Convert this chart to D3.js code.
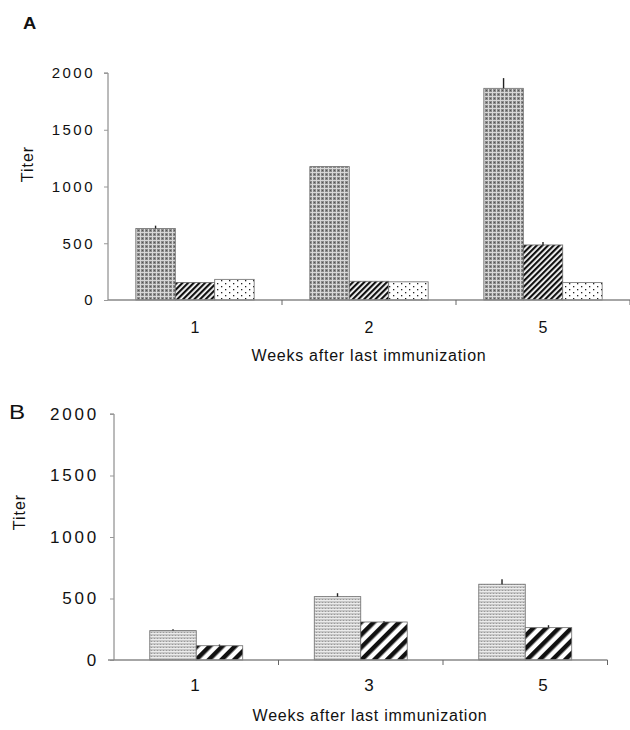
<!DOCTYPE html>
<html>
<head>
<meta charset="utf-8">
<script src="https://cdn.jsdelivr.net/npm/d3@7"></script>
<style>
  body { margin: 0; background: #fff; }
  svg text { font-family: "Liberation Sans", Arial, sans-serif; fill: #111; }
</style>
</head>
<body>
<div id="chart"></div>
<script>
// ---- data ----
const weeksA = ["1", "2", "5"];
const seriesA1 = [630, 1175, 1865];   // grey cross-hatch
const seriesA2 = [155, 165, 485];     // black diagonal
const seriesA3 = [182, 160, 153];     // dotted
const errA1 = [25, 0, 90];
const errA2 = [0, 0, 25];
const errA3 = [0, 0, 0];

const weeksB = ["1", "3", "5"];
const seriesB1 = [239, 515, 616];     // light stipple
const seriesB2 = [116, 309, 263];     // wide diagonal
const errB1 = [10, 28, 40];
const errB2 = [10, 6, 20];

const yTicks = [0, 500, 1000, 1500, 2000];

const width = 630, height = 730;
const svg = d3.select("#chart").append("svg")
    .attr("width", width)
    .attr("height", height);

// ---- fill patterns ----
const defs = svg.append("defs");

const pGrey = defs.append("pattern").attr("id", "pGrey")
    .attr("patternUnits", "userSpaceOnUse").attr("width", 4).attr("height", 4);
pGrey.append("rect").attr("width", 4).attr("height", 4).attr("fill", "#8c8c8c");
pGrey.append("rect").attr("width", 4).attr("height", 1).attr("fill", "#d8d8d8");
pGrey.append("rect").attr("width", 1).attr("height", 4).attr("fill", "#d8d8d8");
pGrey.append("rect").attr("x", 2).attr("y", 2).attr("width", 1).attr("height", 1).attr("fill", "#555");

const pHatch = defs.append("pattern").attr("id", "pHatch")
    .attr("patternUnits", "userSpaceOnUse").attr("width", 4).attr("height", 4)
    .attr("patternTransform", "rotate(45)");
pHatch.append("rect").attr("width", 4).attr("height", 4).attr("fill", "#fff");
pHatch.append("rect").attr("width", 2.2).attr("height", 4).attr("fill", "#111");

const pDots = defs.append("pattern").attr("id", "pDots")
    .attr("patternUnits", "userSpaceOnUse").attr("width", 8).attr("height", 6);
pDots.append("rect").attr("width", 8).attr("height", 6).attr("fill", "#fff");
pDots.append("rect").attr("x", 1).attr("y", 1).attr("width", 1.3).attr("height", 1.3).attr("fill", "#222");
pDots.append("rect").attr("x", 5).attr("y", 4).attr("width", 1.3).attr("height", 1.3).attr("fill", "#222");

const pLight = defs.append("pattern").attr("id", "pLight")
    .attr("patternUnits", "userSpaceOnUse").attr("width", 3).attr("height", 3);
pLight.append("rect").attr("width", 3).attr("height", 3).attr("fill", "#c6c6c6");
pLight.append("rect").attr("width", 3).attr("height", 1).attr("fill", "#ececec");
pLight.append("rect").attr("x", 1).attr("y", 2).attr("width", 1).attr("height", 1).attr("fill", "#9a9a9a");

const pWide = defs.append("pattern").attr("id", "pWide")
    .attr("patternUnits", "userSpaceOnUse").attr("width", 9).attr("height", 9)
    .attr("patternTransform", "rotate(45)");
pWide.append("rect").attr("width", 9).attr("height", 9).attr("fill", "#fff");
pWide.append("rect").attr("width", 4.5).attr("height", 9).attr("fill", "#111");

// ---- generic panel ----
function panel(cfg) {
    const g = svg.append("g");

    const x = d3.scaleBand().domain(cfg.cats).range([cfg.x0, cfg.x1]);
    const keys = cfg.series.map((s, i) => i);
    const bw = x.bandwidth();
    const x1 = d3.scaleBand().domain(keys)
        .range([bw * cfg.inset, bw * (1 - cfg.inset)]);
    const y = d3.scaleLinear().domain([0, 2000]).range([cfg.y0, cfg.yTop]);

    // bars
    cfg.series.forEach((vals, si) => {
        const rows = vals.map((v, i) => ({ cat: cfg.cats[i], v, e: cfg.errs[si][i] }));

        g.append("g").selectAll("rect")
            .data(rows)
            .enter().append("rect")
            .attr("x", d => x(d.cat) + x1(si))
            .attr("y", d => y(d.v))
            .attr("width", x1.bandwidth())
            .attr("height", d => y(0) - y(d.v))
            .attr("fill", `url(#${cfg.fills[si]})`)
            .attr("stroke", "#6a6a6a")
            .attr("stroke-width", 0.8);

        // upper error bars
        g.append("g").selectAll("line")
            .data(rows.filter(d => d.e > 0))
            .enter().append("line")
            .attr("x1", d => x(d.cat) + x1(si) + x1.bandwidth() / 2)
            .attr("x2", d => x(d.cat) + x1(si) + x1.bandwidth() / 2)
            .attr("y1", d => y(d.v))
            .attr("y2", d => y(d.v + d.e))
            .attr("stroke", "#222")
            .attr("stroke-width", 1.4);
    });

    // y axis
    const yAxis = d3.axisLeft(y).tickValues(yTicks).tickFormat(d3.format("d"))
        .tickSize(4).tickPadding(cfg.tickPad);
    const ya = g.append("g")
        .attr("transform", `translate(${cfg.x0},0)`)
        .call(yAxis);
    ya.select(".domain").attr("stroke", "#777").attr("stroke-width", 1)
        .attr("d", `M-4,${y(2000)}H0V${y(0)}`);
    ya.selectAll(".tick line").attr("stroke", "#999");
    ya.selectAll(".tick text")
        .style("font-size", cfg.tickFont + "px")
        .style("letter-spacing", cfg.tickSpacing + "px")
        .attr("fill", "#111");

    // x axis line with ticks at band boundaries
    g.append("line")
        .attr("x1", cfg.x0 - cfg.leftExt).attr("x2", cfg.x1)
        .attr("y1", y(0)).attr("y2", y(0))
        .attr("stroke", "#888").attr("stroke-width", 1.5);
    g.append("g").selectAll("line")
        .data(cfg.cats)
        .enter().append("line")
        .attr("x1", d => x(d) + bw).attr("x2", d => x(d) + bw)
        .attr("y1", y(0)).attr("y2", y(0) + 5)
        .attr("stroke", "#666").attr("stroke-width", 1);

    // category labels
    const lx = d3.scalePoint().domain(cfg.cats).range(cfg.labelRange);
    g.append("g").selectAll("text")
        .data(cfg.cats)
        .enter().append("text")
        .attr("x", d => lx(d))
        .attr("y", cfg.catY)
        .attr("text-anchor", "middle")
        .style("font-size", cfg.catFont + "px")
        .text(d => d);

    g.append("text")
        .attr("x", cfg.titleX).attr("y", cfg.titleY)
        .attr("text-anchor", "middle")
        .style("font-size", "16px")
        .style("letter-spacing", "0.75px")
        .text("Weeks after last immunization");

    g.append("text")
        .attr("transform", `translate(${cfg.titerX},${cfg.titerY}) rotate(-90)`)
        .attr("text-anchor", "middle")
        .style("font-size", "16px")
        .style("letter-spacing", "1px")
        .text("Titer");

    g.append("text")
        .attr("transform", `translate(${cfg.letterX},${cfg.letterY}) scale(${cfg.letterStretch},1)`)
        .style("font-size", cfg.letterSize + "px")
        .style("font-weight", cfg.letterWeight)
        .text(cfg.letter);
}

panel({
    cats: weeksA,
    series: [seriesA1, seriesA2, seriesA3],
    errs: [errA1, errA2, errA3],
    fills: ["pGrey", "pHatch", "pDots"],
    x0: 108, x1: 630, inset: 0.16,
    y0: 300, yTop: 73,
    leftExt: 0,
    tickFont: 15, tickSpacing: 2.5, tickPad: 9,
    catFont: 16,
    labelRange: [195, 543], catY: 333,
    titleX: 369, titleY: 361,
    titerX: 33, titerY: 164,
    letter: "A", letterX: 23, letterY: 29, letterSize: 16, letterWeight: "bold", letterStretch: 1.15
});

panel({
    cats: weeksB,
    series: [seriesB1, seriesB2],
    errs: [errB1, errB2],
    fills: ["pLight", "pWide"],
    x0: 114, x1: 607.5, inset: 0.2175,
    y0: 660, yTop: 414,
    leftExt: 6,
    tickFont: 17, tickSpacing: 2.8, tickPad: 11,
    catFont: 17,
    labelRange: [195, 543], catY: 691,
    titleX: 370, titleY: 721,
    titerX: 25, titerY: 512,
    letter: "B", letterX: 9, letterY: 419, letterSize: 21, letterWeight: "normal", letterStretch: 1.15
});
</script>
</body>
</html>
